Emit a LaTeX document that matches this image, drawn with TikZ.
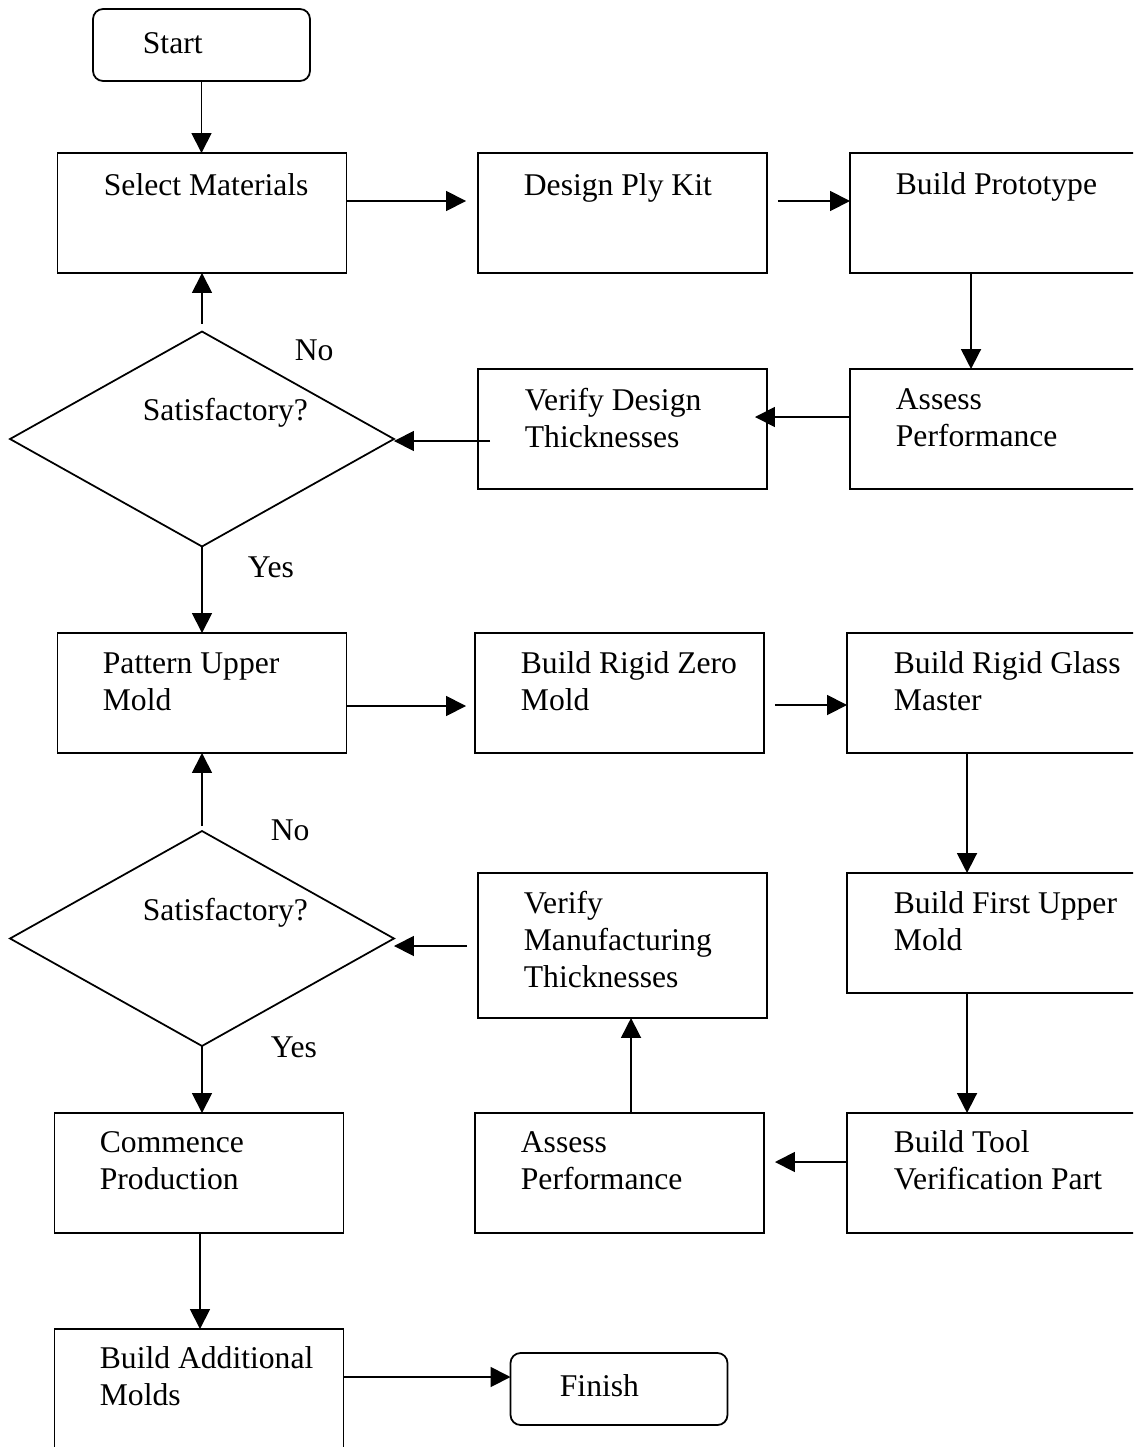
\documentclass[tikz,border=0pt]{standalone}
\usepackage{fontspec}
\setmainfont{Liberation Serif}
\usetikzlibrary{arrows.meta,shapes.geometric,calc}
\begin{document}
\begin{tikzpicture}[x=0.02cm,y=-0.02cm,
  line width=1pt,
  box/.style={draw, rectangle, inner sep=0pt, outer sep=0pt, minimum width=5.78cm, minimum height=2.4cm},
  term/.style={draw, rectangle, rounded corners=0.2cm, inner sep=0pt, outer sep=0pt, minimum width=4.34cm, minimum height=1.44cm},
  decide/.style={draw, diamond, inner sep=0pt, outer sep=0pt, minimum width=7.68cm, minimum height=4.3cm},
  lbl/.style={anchor=base west, align=flush left, text width=6.2cm, inner sep=0pt, font=\fontsize{18}{21.3}\selectfont},
  flow/.style={-{Triangle[length=0.4cm,width=0.4cm]}}]
\useasboundingbox (0,0) rectangle (1133,1447);
\clip (0,0) rectangle (1133,1447);
% shapes
\node[term] (start) at (201.5,45) {};
\node[box] (sel) at (202,213) {};
\node[box] (des) at (622.5,213) {};
\node[box] (pro) at (994.5,213) {};
\node[box] (ass1) at (994.5,429) {};
\node[box] (ver1) at (622.5,429) {};
\node[decide] (dia1) at (202,439) {};
\node[box] (pat) at (202,693) {};
\node[box] (zer) at (619.5,693) {};
\node[box] (gla) at (991.5,693) {};
\node[box] (fir) at (991.5,933) {};
\node[box] (tool) at (991.5,1173) {};
\node[box] (ass2) at (619.5,1173) {};
\node[box, minimum height=2.9cm] (ver2) at (622.5,945.5) {};
\node[decide] (dia2) at (202,938.5) {};
\node[box] (com) at (199,1173) {};
\node[box] (add) at (199,1389) {};
\node[term] (fin) at (619,1389) {};
% labels
\node[lbl] (tstart) at (142,53) {Start};
\node[lbl] (tsel) at (103,195) {Select Materials};
\node[lbl] (tdes) at (523,195) {Design Ply Kit};
\node[lbl] (tpro) at (895,194) {Build Prototype};
\node[lbl] (tass1) at (895,409) {Assess\\Performance};
\node[lbl] (tver1) at (524,410) {Verify Design\\Thicknesses};
\node[lbl] (tdia1) at (142,420) {Satisfactory?};
\node[lbl] (tno1) at (294,360) {No};
\node[lbl] (tyes1) at (247,577) {Yes};
\node[lbl] (tpat) at (102,673) {Pattern Upper\\Mold};
\node[lbl] (tzer) at (520,673) {Build Rigid Zero\\Mold};
\node[lbl] (tgla) at (893,673) {Build Rigid Glass\\Master};
\node[lbl] (tfir) at (893,913) {Build First Upper\\Mold};
\node[lbl] (tver2) at (523,913) {Verify\\Manufacturing\\Thicknesses};
\node[lbl] (tdia2) at (142,920) {Satisfactory?};
\node[lbl] (tno2) at (270,840) {No};
\node[lbl] (tyes2) at (270,1057) {Yes};
\node[lbl] (ttool) at (893,1152) {Build Tool\\Verification Part};
\node[lbl] (tass2) at (520,1152) {Assess\\Performance};
\node[lbl] (tcom) at (99,1152) {Commence\\Production};
\node[lbl] (tadd) at (99,1368) {Build Additional\\Molds};
\node[lbl] (tfin) at (559,1396) {Finish};
% connectors
\draw[flow] (start.south) -- (start.south |- sel.north);
\draw[flow] ($(sel.east)+(0,-12)$) -- ($(des.west)+(-12,-12)$);
\draw[flow] ($(des.east)+(11,-12)$) -- ($(pro.west)+(0,-12)$);
\draw[flow] ($(pro.south west)+(121,0)$) -- ($(ass1.north west)+(121,0)$);
\draw[flow] ($(ass1.west)+(0,-12)$) -- ($(ver1.east)+(-12,-12)$);
\draw[flow] ($(ver1.west)+(12,12)$) -- ($(dia1.east)+(0,2)$);
\draw[flow] ($(dia1.north)+(0,-8)$) -- (sel.south);
\draw[flow] (dia1.south) -- (pat.north);
\draw[flow] ($(pat.east)+(0,13)$) -- ($(zer.west)+(-9,13)$);
\draw[flow] ($(zer.east)+(11,12)$) -- ($(gla.west)+(0,12)$);
\draw[flow] ($(gla.south west)+(120,0)$) -- ($(fir.north west)+(120,0)$);
\draw[flow] ($(fir.south west)+(120,0)$) -- ($(tool.north west)+(120,0)$);
\draw[flow] ($(tool.west)+(0,-11)$) -- ($(ass2.east)+(11,-11)$);
\draw[flow] ($(ass2.north west)+(156,0)$) -- ($(ver2.south west)+(153,0)$);
\draw[flow] ($(ver2.west)+(-11,0.5)$) -- ($(dia2.east)+(0,7.5)$);
\draw[flow] ($(dia2.north)+(0,-5)$) -- (pat.south);
\draw[flow] (dia2.south) -- (dia2.south |- com.north);
\draw[flow] ($(com.south)+(1,0)$) -- ($(add.north)+(1,0)$);
\draw[flow] ($(add.east)+(0,-12)$) -- ($(fin.west)+(0,-12)$);
\end{tikzpicture}
\end{document}
